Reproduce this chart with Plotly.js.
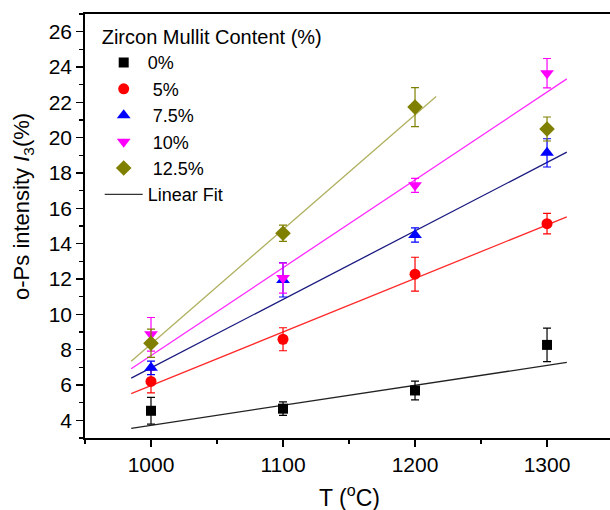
<!DOCTYPE html>
<html>
<head>
<meta charset="utf-8">
<script src="https://cdn.plot.ly/plotly-3.0.1.min.js"></script>
<style>html,body{margin:0;padding:0;overflow:hidden;background:#fff}</style>
</head>
<body>
<div id="chart" style="width:610px;height:510px"></div>
<script>
// Data
const temperature = [1000, 1100, 1200, 1300];
const seriesNames = ["0%", "\u00a05%", "\u00a07.5%", "\u00a010%", "\u00a012.5%"];
const i3_0   = [4.54, 4.66, 5.69, 8.27];
const err_0  = [0.76, 0.38, 0.53, 0.95];
const i3_5   = [6.20, 8.59, 12.27, 15.13];
const err_5  = [0.65, 0.65, 0.96, 0.58];
const i3_75  = [6.97, 11.95, 14.49, 19.14];
const err_75 = [0.38, 0.97, 0.40, 0.80];
const i3_10  = [8.87, 12.05, 17.30, 23.65];
const err_10 = [0.95, 0.85, 0.40, 0.83];
const i3_125 = [8.36, 14.59, 21.73, 20.49];
const err_125 = [0.80, 0.46, 1.10, 0.68];
// Linear-fit line end points
const fitStartT = [985, 985, 985, 985, 985];
const fitEndT   = [1315, 1315, 1315, 1315, 1216];
const fitStartI = [3.55, 5.51, 6.39, 6.92, 7.35];
const fitEndI   = [7.28, 15.52, 19.18, 23.33, 22.33];

const values = [i3_0, i3_5, i3_75, i3_10, i3_125];
const errors = [err_0, err_5, err_75, err_10, err_125];
const markerColors = ["#000000", "#ff0000", "#0000ff", "#ff00ff", "#808000"];
const fitColors = ["#222222", "#ff2a2a", "#1a1a80", "#ff2aff", "#b0b060"];
const symbols = ["square", "circle", "triangle-up", "triangle-down", "diamond"];
const sizes = [10, 11, 12, 12, 12];

const FONT = "Arial, 'Liberation Sans', sans-serif";
const traces = [];
for (let k = 0; k < 5; k++) {
  traces.push({
    x: [fitStartT[k], fitEndT[k]],
    y: [fitStartI[k], fitEndI[k]],
    mode: "lines",
    line: {color: fitColors[k], width: 1.3},
    showlegend: false,
    hoverinfo: "skip"
  });
}
for (let k = 0; k < 5; k++) {
  traces.push({
    x: temperature,
    y: values[k],
    name: seriesNames[k],
    mode: "markers",
    marker: {symbol: symbols[k], size: sizes[k], color: markerColors[k]},
    error_y: {type: "data", array: errors[k], visible: true, color: markerColors[k], thickness: 1.2, width: 4},
    legendrank: k + 1
  });
}
traces.push({
  x: [null], y: [null],
  name: "Linear Fit",
  mode: "lines",
  line: {color: "#333333", width: 1.3},
  legendrank: 10
});

const layout = {
  width: 610, height: 510,
  margin: {l: 85, r: 0, t: 14, b: 72},
  paper_bgcolor: "#fff", plot_bgcolor: "#fff",
  font: {family: FONT, color: "#000", size: 18},
  showlegend: true,
  legend: {
    x: 0.028, y: 0.99, xanchor: "left", yanchor: "top",
    bgcolor: "rgba(0,0,0,0)", borderwidth: 0,
    itemwidth: 38,
    font: {family: FONT, size: 18, color: "#000"},
    title: {text: "Zircon Mullit Content (%)", font: {family: FONT, size: 20, color: "#000"}},
    tracegroupgap: 0
  },
  xaxis: {
    range: [950, 1347.7],
    tick0: 1000, dtick: 100,
    ticks: "outside", ticklen: 7, tickwidth: 1.5, tickcolor: "#000",
    minor: {dtick: 50, ticks: "outside", ticklen: 4, tickwidth: 1.5, tickcolor: "#000"},
    showline: true, linecolor: "#000", linewidth: 1.8, mirror: true,
    showgrid: false, zeroline: false,
    tickfont: {family: FONT, size: 21, color: "#000"}
  },
  yaxis: {
    range: [3, 27],
    tick0: 0, dtick: 2,
    ticks: "outside", ticklen: 7, tickwidth: 1.5, tickcolor: "#000",
    minor: {dtick: 1, ticks: "outside", ticklen: 4, tickwidth: 1.5, tickcolor: "#000"},
    showline: true, linecolor: "#000", linewidth: 1.8,
    showgrid: false, zeroline: false,
    tickfont: {family: FONT, size: 21, color: "#000"}
  },
  annotations: [
    {text: "T (<sup>o</sup>C)", xref: "paper", yref: "paper", x: 0.503, y: -0.136,
     xanchor: "center", yanchor: "middle", showarrow: false,
     font: {family: FONT, size: 23, color: "#000"}},
    {text: "o-Ps intensity <i>I</i><sub>3</sub>(%)", xref: "paper", yref: "paper", x: -0.118, y: 0.545,
     xanchor: "center", yanchor: "middle", textangle: -90, showarrow: false,
     font: {family: FONT, size: 22, color: "#000"}}
  ]
};

Plotly.newPlot("chart", traces, layout, {displayModeBar: false, staticPlot: true});
</script>
</body>
</html>
